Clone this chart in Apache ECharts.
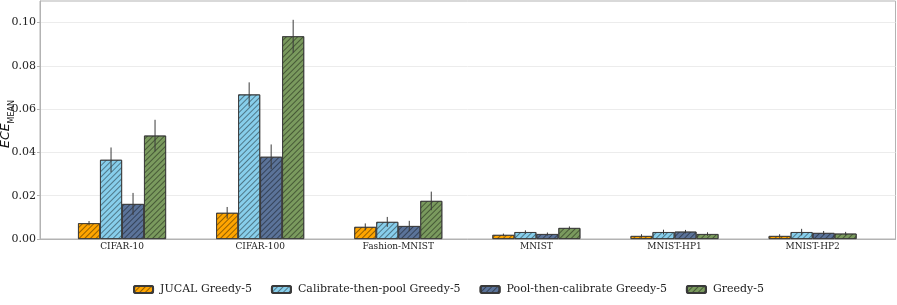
<!DOCTYPE html>
<html>
<head>
<meta charset="utf-8">
<script src="https://cdn.jsdelivr.net/npm/echarts@6/dist/echarts.min.js"></script>
<style>html,body{margin:0;padding:0;background:#fff}#c{width:897px;height:305px}</style>
</head>
<body>
<div id="c"></div>
<script>
const categories = ['CIFAR-10', 'CIFAR-100', 'Fashion-MNIST', 'MNIST', 'MNIST-HP1', 'MNIST-HP2'];
const seriesNames = ['JUCAL Greedy-5', 'Calibrate-then-pool Greedy-5', 'Pool-then-calibrate Greedy-5', 'Greedy-5'];
const jucalMean = [0.0073, 0.0121, 0.0056, 0.0019, 0.0014, 0.0014];
const jucalErr  = [0.0010, 0.0027, 0.0016, 0.0006, 0.0008, 0.0008];
const calibPoolMean = [0.0366, 0.0668, 0.0079, 0.0032, 0.0032, 0.0032];
const calibPoolErr  = [0.0057, 0.0056, 0.0023, 0.0008, 0.0011, 0.0015];
const poolCalibMean = [0.0162, 0.0380, 0.0060, 0.0023, 0.0034, 0.0028];
const poolCalibErr  = [0.0051, 0.0057, 0.0024, 0.0007, 0.0008, 0.0009];
const greedyMean = [0.0478, 0.0937, 0.0176, 0.0051, 0.0023, 0.0025];
const greedyErr  = [0.0073, 0.0076, 0.0043, 0.0007, 0.0008, 0.0008];
const yTicks = [0, 0.02, 0.04, 0.06, 0.08, 0.10];

const means = [jucalMean, calibPoolMean, poolCalibMean, greedyMean];
const errs = [jucalErr, calibPoolErr, poolCalibErr, greedyErr];
const colors = ['#FFA500', '#87CEEB', '#5B7399', '#7A9A5E'];
const BAR_W = 22;
const SERIF = '"DejaVu Serif", serif';

const chart = echarts.init(document.getElementById('c'), null, {renderer: 'canvas'});

const decal = {
  symbol: 'rect',
  symbolSize: 1,
  dashArrayX: [1, 0],
  dashArrayY: [1, 3],
  rotation: -Math.PI / 4,
  color: 'rgba(0,0,0,0.42)'
};

const series = [];
means.forEach((m, k) => {
  series.push({
    name: seriesNames[k],
    type: 'bar',
    barWidth: BAR_W,
    barGap: '0%',
    data: m.map((v, i) => [i, v]),
    itemStyle: {color: colors[k], borderColor: '#3a3a3a', borderWidth: 0.8, decal: decal},
    emphasis: {disabled: true},
    z: 2
  });
});
means.forEach((m, k) => {
  series.push({
    type: 'custom',
    silent: true,
    z: 5,
    data: m.map((v, i) => [i, v, errs[k][i]]),
    renderItem: function (params, api) {
      const i = api.value(0), v = api.value(1), e = api.value(2);
      const top = api.coord([i, v + e]);
      const bot = api.coord([i, v - e]);
      const x = top[0] + (k - 1.5) * BAR_W;
      return {
        type: 'line',
        shape: {x1: x, y1: top[1], x2: x, y2: bot[1]},
        style: {stroke: '#3a3a3a', lineWidth: 1}
      };
    }
  });
});

chart.setOption({
  animation: false,
  grid: {left: 40, right: 1.5, top: 1, bottom: 66, containLabel: false, outerBoundsMode: 'none',
         show: true, borderColor: '#b3b3b3', borderWidth: 1, backgroundColor: 'transparent'},
  legend: {
    data: seriesNames,
    bottom: 5,
    left: 'center',
    itemWidth: 19,
    itemHeight: 7,
    itemGap: 19,
    textStyle: {fontFamily: SERIF, fontSize: 11, color: '#222', padding: [0, 0, 0, 2]}
  },
  graphic: [{
    type: 'text',
    x: 6,
    y: 124,
    rotation: Math.PI / 2,
    style: {
      text: '{e|ECE}{s|MEAN}',
      align: 'center',
      verticalAlign: 'middle',
      rich: {
        e: {fontFamily: '"DejaVu Sans"', fontStyle: 'italic', fontSize: 12.5, fill: '#111'},
        s: {fontFamily: '"DejaVu Sans"', fontSize: 8, fill: '#111', verticalAlign: 'bottom', padding: [0, 0, -3, 0]}
      }
    }
  }],
  xAxis: {
    type: 'value',
    min: -0.594,
    max: 5.6,
    axisLine: {show: true, onZero: false, lineStyle: {color: '#b3b3b3'}},
    axisTick: {show: false},
    splitLine: {show: false},
    axisLabel: {
      customValues: [0, 1, 2, 3, 4, 5],
      formatter: v => categories[Math.round(v)],
      fontFamily: SERIF, fontSize: 9, color: '#222', margin: 3
    }
  },
  yAxis: {
    type: 'value',
    min: 0,
    max: 0.11,
    interval: 0.02,
    axisLine: {show: true, onZero: false, lineStyle: {color: '#b3b3b3'}},
    axisTick: {show: true, length: 3, customValues: yTicks, lineStyle: {color: '#b3b3b3'}},
    splitLine: {show: true, lineStyle: {color: '#ececec', width: 1}},
    axisLabel: {
      customValues: yTicks,
      formatter: v => v.toFixed(2),
      fontFamily: SERIF, fontSize: 11, color: '#222', margin: 4
    }
  },
  series: series
});
</script>
</body>
</html>
